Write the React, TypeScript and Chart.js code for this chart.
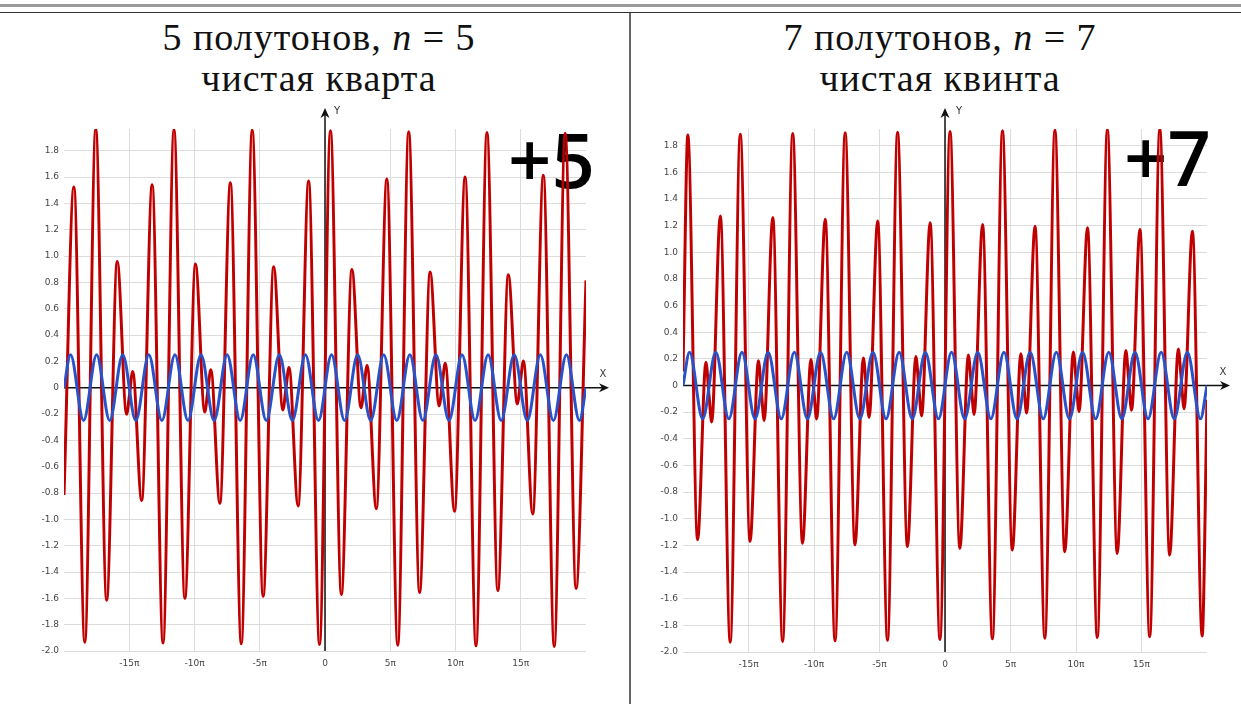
import React, { useEffect, useRef } from 'react';
import { Chart, registerables } from 'chart.js';

Chart.register(...registerables);

// x values are expressed in units of π
const xTickValues = [-15, -10, -5, 0, 5, 10, 15];
const yTickValues = [-2.0, -1.8, -1.6, -1.4, -1.2, -1.0, -0.8, -0.6, -0.4, -0.2, 0, 0.2, 0.4, 0.6, 0.8, 1.0, 1.2, 1.4, 1.6, 1.8];

// pure tone (blue), read at its peaks / troughs
const toneX = [-20, -19.5, -18.5, -17.5, -16.5, -15.5, -14.5, -13.5, -12.5, -11.5, -10.5, -9.5, -8.5, -7.5, -6.5, -5.5, -4.5, -3.5, -2.5, -1.5, -0.5,
  0.5, 1.5, 2.5, 3.5, 4.5, 5.5, 6.5, 7.5, 8.5, 9.5, 10.5, 11.5, 12.5, 13.5, 14.5, 15.5, 16.5, 17.5, 18.5, 19.5, 20];
const toneY = [0, 0.25, -0.25, 0.25, -0.25, 0.25, -0.25, 0.25, -0.25, 0.25, -0.25, 0.25, -0.25, 0.25, -0.25, 0.25, -0.25, 0.25, -0.25, 0.25, -0.25,
  0.25, -0.25, 0.25, -0.25, 0.25, -0.25, 0.25, -0.25, 0.25, -0.25, 0.25, -0.25, 0.25, -0.25, 0.25, -0.25, 0.25, -0.25, 0.25, -0.25, 0];

// perfect fourth (red, left panel): peaks, troughs and small wiggles
const fourthX = [-20, -19.240, -18.406, -17.567, -16.732, -15.920, -15.205, -14.990, -14.734, -14.048, -13.245, -12.411, -11.572, -10.737, -9.926,
  -9.216, -8.994, -8.747, -8.055, -7.250, -6.415, -5.576, -4.741, -3.933, -3.228, -2.998, -2.759, -2.061, -1.254, -0.419,
  0.419, 1.254, 2.061, 2.759, 2.998, 3.228, 3.933, 4.741, 5.576, 6.415, 7.250, 8.055, 8.747, 8.994, 9.216,
  9.926, 10.737, 11.572, 12.411, 13.245, 14.048, 14.734, 14.990, 15.205, 15.920, 16.732, 17.567, 18.406, 19.240, 20];
const fourthY = [-0.815, 1.525, -1.933, 1.965, -1.614, 0.959, -0.202, -0.061, 0.123, -0.857, 1.541, -1.939, 1.961, -1.600, 0.939,
  -0.185, -0.037, 0.137, -0.878, 1.556, -1.945, 1.956, -1.585, 0.919, -0.169, -0.012, 0.153, -0.898, 1.570, -1.951,
  1.951, -1.570, 0.898, -0.153, 0.012, 0.169, -0.919, 1.585, -1.956, 1.945, -1.556, 0.878, -0.137, 0.037, 0.185,
  -0.939, 1.600, -1.961, 1.939, -1.541, 0.857, -0.123, 0.061, 0.202, -0.959, 1.614, -1.965, 1.933, -1.525, 0.815];

// perfect fifth (red, right panel)
const fifthX = [-20, -19.631, -18.886, -18.250, -18.012, -17.810, -17.149, -16.397, -15.628, -14.882, -14.243, -14.009, -13.804, -13.145, -12.394,
  -11.625, -10.878, -10.236, -10.007, -9.797, -9.142, -8.391, -7.622, -6.874, -6.229, -6.004, -5.791, -5.138, -4.388, -3.619,
  -2.870, -2.223, -2.001, -1.784, -1.134, -0.384,
  0.384, 1.134, 1.784, 2.001, 2.223, 2.870, 3.619, 4.388, 5.138, 5.791, 6.004, 6.229, 6.874, 7.622, 8.391,
  9.142, 9.797, 10.007, 10.236, 10.878, 11.625, 12.394, 13.145, 13.804, 14.009, 14.243, 14.882, 15.628, 16.397, 17.149,
  17.810, 18.012, 18.250, 18.886, 19.631, 20];
const fifthY = [0.106, 1.880, -1.158, 0.175, -0.077, -0.274, 1.273, -1.926, 1.885, -1.171, 0.186, -0.060, -0.262, 1.260, -1.921,
  1.891, -1.184, 0.196, -0.043, -0.251, 1.248, -1.916, 1.896, -1.196, 0.207, -0.026, -0.239, 1.235, -1.912, 1.901,
  -1.209, 0.217, -0.009, -0.228, 1.222, -1.906,
  1.906, -1.222, 0.228, 0.009, -0.217, 1.209, -1.901, 1.912, -1.235, 0.239, 0.026, -0.207, 1.196, -1.896, 1.916,
  -1.248, 0.251, 0.043, -0.196, 1.184, -1.891, 1.921, -1.260, 0.262, 0.060, -0.186, 1.171, -1.885, 1.926, -1.273,
  0.274, 0.077, -0.175, 1.158, -1.880, -0.106];

const RED = '#c00000';
const BLUE = '#2a52c8';

type Area = { left: number; right: number; top: number; bottom: number };
type PanelProps = {
  redX: number[]; redY: number[]; yMax: number;
  left: number; top: number; width: number; height: number;
  area: Area; badge: string; badgeX: number; badgeY: number;
  xLabelDx: number; yLabelDx: number;
};

function Panel(p: PanelProps) {
  const ref = useRef<HTMLCanvasElement | null>(null);
  useEffect(() => {
    if (!ref.current) return;
    const overlay = {
      id: 'axesOverlay',
      beforeDatasetsDraw(chart: any) {
        const { ctx, chartArea, scales } = chart;
        const x0 = scales.x.getPixelForValue(0);
        const y0 = scales.y.getPixelForValue(0);
        ctx.save();
        // big badge text
        ctx.fillStyle = '#000';
        ctx.font = '600 76px "Open Sans"';
        ctx.textBaseline = 'alphabetic';
        ctx.textAlign = 'left';
        ctx.fillText(p.badge, p.badgeX - p.left, p.badgeY - p.top);
        // axes
        ctx.strokeStyle = '#111';
        ctx.fillStyle = '#111';
        ctx.lineWidth = 1.5;
        const xr = chartArea.right + 23;
        ctx.beginPath();
        ctx.moveTo(chartArea.left, y0);
        ctx.lineTo(xr - 4, y0);
        ctx.stroke();
        ctx.beginPath();
        ctx.moveTo(xr, y0);
        ctx.lineTo(xr - 10, y0 - 4.5);
        ctx.lineTo(xr - 7, y0);
        ctx.lineTo(xr - 10, y0 + 4.5);
        ctx.closePath();
        ctx.fill();
        const yt = chartArea.top - 21;
        ctx.beginPath();
        ctx.moveTo(x0, chartArea.bottom);
        ctx.lineTo(x0, yt + 4);
        ctx.stroke();
        ctx.beginPath();
        ctx.moveTo(x0, yt);
        ctx.lineTo(x0 - 4.5, yt + 10);
        ctx.lineTo(x0, yt + 7);
        ctx.lineTo(x0 + 4.5, yt + 10);
        ctx.closePath();
        ctx.fill();
        ctx.fillStyle = '#333';
        ctx.font = '10px "DejaVu Sans"';
        ctx.textAlign = 'center';
        ctx.textBaseline = 'middle';
        ctx.fillText('X', chartArea.right + p.xLabelDx, y0 - 13);
        ctx.fillText('Y', x0 + p.yLabelDx, chartArea.top - 18);
        ctx.restore();
      },
    };
    const chart = new Chart(ref.current, {
      type: 'line',
      data: {
        datasets: [
          {
            data: toneX.map((x, i) => ({ x, y: toneY[i] })),
            borderColor: BLUE,
            borderWidth: 3,
            pointRadius: 0,
            cubicInterpolationMode: 'monotone',
            fill: false,
          },
          {
            data: p.redX.map((x, i) => ({ x, y: p.redY[i] })),
            borderColor: RED,
            borderWidth: 3,
            pointRadius: 0,
            cubicInterpolationMode: 'monotone',
            fill: false,
          },
        ],
      },
      options: {
        animation: false,
        responsive: false,
        maintainAspectRatio: false,
        devicePixelRatio: 1,
        events: [],
        layout: {
          padding: {
            left: 0,
            right: p.left + p.width - p.area.right,
            top: p.area.top - p.top,
            bottom: 0,
          },
        },
        plugins: { legend: { display: false }, tooltip: { enabled: false } },
        scales: {
          x: {
            type: 'linear',
            min: -20,
            max: 20,
            afterBuildTicks: (s: any) => { s.ticks = xTickValues.map((v) => ({ value: v })); },
            afterFit: (s: any) => { s.height = p.top + p.height - p.area.bottom; },
            border: { display: false },
            grid: { color: '#dcdcdc', lineWidth: 1, drawTicks: false },
            ticks: {
              padding: 7,
              color: '#444',
              font: { family: 'DejaVu Sans', size: 9 },
              maxRotation: 0,
              autoSkip: false,
              callback: (v: any) => (Number(v) === 0 ? '0' : `${v}π`),
            },
          },
          y: {
            type: 'linear',
            min: -2,
            max: p.yMax,
            afterBuildTicks: (s: any) => { s.ticks = yTickValues.map((v) => ({ value: v })); },
            afterFit: (s: any) => { s.width = p.area.left - p.left; },
            border: { display: false },
            grid: { color: '#dcdcdc', lineWidth: 1, drawTicks: false },
            ticks: {
              padding: 5,
              color: '#444',
              font: { family: 'DejaVu Sans', size: 9 },
              autoSkip: false,
              callback: (v: any) => (Number(v) === 0 ? '0' : Number(v).toFixed(1)),
            },
          },
        },
      },
      plugins: [overlay],
    } as any);
    return () => chart.destroy();
  }, []);
  return (
    <canvas
      ref={ref}
      width={p.width}
      height={p.height}
      style={{ position: 'absolute', left: p.left, top: p.top, width: p.width, height: p.height, display: 'block' }}
    />
  );
}

function Title({ cx, line1, num, line2 }: { cx: number; line1: string; num: string; line2: string }) {
  const base: React.CSSProperties = {
    position: 'absolute',
    left: cx - 300,
    width: 600,
    textAlign: 'center',
    fontFamily: '"Liberation Serif", serif',
    fontSize: 38,
    letterSpacing: 1,
    lineHeight: 1,
    color: '#111',
    whiteSpace: 'nowrap',
  };
  return (
    <>
      <div style={{ ...base, top: 18 }}>
        {line1}, <span style={{ fontStyle: 'italic' }}>n</span> = {num}
      </div>
      <div style={{ ...base, top: 59 }}>{line2}</div>
    </>
  );
}

export default function App() {
  return (
    <div style={{ position: 'fixed', left: 0, top: 0, width: 1241, height: 704, background: '#fff', overflow: 'hidden' }}>
      <div style={{ position: 'absolute', left: 0, top: 4, width: 1241, height: 3, background: '#9a9a9a' }} />
      <div style={{ position: 'absolute', left: 0, top: 12, width: 1241, height: 1, background: '#333' }} />
      <Title cx={319} line1="5 полутонов" num="5" line2="чистая кварта" />
      <Title cx={940} line1="7 полутонов" num="7" line2="чистая квинта" />
      <Panel
        redX={fourthX} redY={fourthY} yMax={1.965}
        left={0} top={95} width={625} height={609}
        area={{ left: 64, right: 586, top: 129, bottom: 651 }}
        badge="+5" badgeX={508} badgeY={188}
        xLabelDx={17} yLabelDx={12}
      />
      <Panel
        redX={fifthX} redY={fifthY} yMax={1.925}
        left={631} top={95} width={610} height={609}
        area={{ left: 683, right: 1207, top: 129, bottom: 652 }}
        badge="+7" badgeX={1124} badgeY={186}
        xLabelDx={16} yLabelDx={14}
      />
      <div style={{ position: 'absolute', left: 629, top: 13, width: 2, height: 691, background: '#666' }} />
    </div>
  );
}
